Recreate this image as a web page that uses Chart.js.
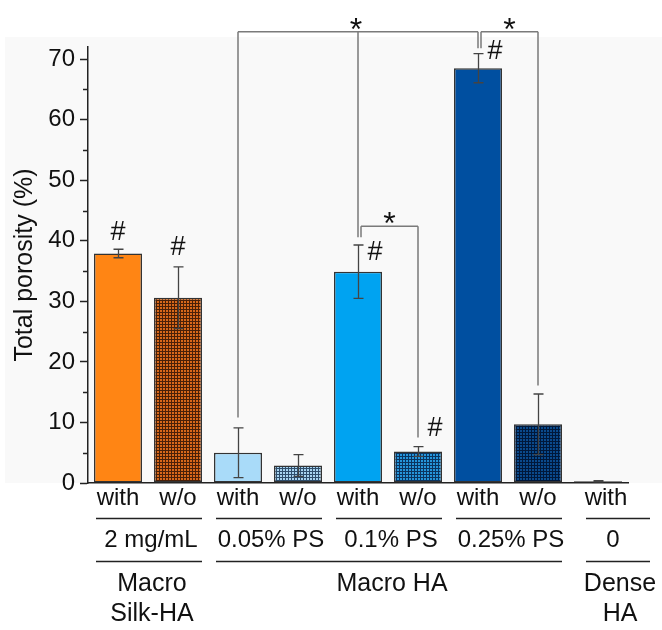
<!DOCTYPE html>
<html>
<head>
<meta charset="utf-8">
<script src="https://cdn.jsdelivr.net/npm/chart.js@4"></script>
<style>
  body { margin: 0; background: #fff; }
  #wrap { width: 662px; height: 630px; }
</style>
</head>
<body>
<div id="wrap"><canvas id="grafica" width="662" height="630"></canvas></div>
<script>
// datos
const categories = ['with', 'w/o', 'with', 'w/o', 'with', 'w/o', 'with', 'w/o', 'with'];
const porosity = [37.9, 30.6, 5.0, 2.9, 34.9, 5.2, 68.5, 9.7, 0.3];
const porosityErr = [0.7, 5.1, 4.1, 1.8, 4.4, 0.8, 2.4, 5.0, 0.1];
const concLabels = ['2 mg/mL', '0.05% PS', '0.1% PS', '0.25% PS', '0'];
const concSpans = [[0, 1], [2, 3], [4, 5], [6, 7], [8, 8]];
const typeLabels = [['Macro', 'Silk-HA'], ['Macro HA'], ['Dense', 'HA']];
const typeSpans = [[0, 1], [2, 7], [8, 8]];
const yTicks = [0, 10, 20, 30, 40, 50, 60, 70];
// significance: bars joined, end values of the legs, level of the bar
const sigBars = [[2, 4, 6], [6, 7], [4, 5]];
const sigEnds = [[10.8, 40.6, 71.8], [71.8, 16.1], [40.6, 7.5]];
const sigLevel = [74.5, 74.5, 42.4];
// "#" marks: bar index and height
const hashBars = [0, 1, 4, 5, 6];
const hashLevel = [41.4, 38.8, 38.1, 9.0, 71.2];

const FONT = '"Liberation Sans", Arial, sans-serif';

function patron(ctx, base, line) {
    const c = document.createElement('canvas');
    c.width = 3; c.height = 3;
    const g = c.getContext('2d');
    g.fillStyle = base; g.fillRect(0, 0, 3, 3);
    g.fillStyle = line; g.fillRect(0, 0, 3, 1); g.fillRect(0, 0, 1, 3);
    return ctx.createPattern(c, 'repeat');
}

const fondo = {
    id: 'fondo',
    beforeDraw(chart) {
        const ctx = chart.ctx;
        ctx.save();
        ctx.fillStyle = '#ffffff';
        ctx.fillRect(0, 0, chart.width, chart.height);
        ctx.fillStyle = '#f9f9f9';
        ctx.fillRect(5, 37, chart.width - 5, chart.chartArea.bottom - 37);
        ctx.restore();
    }
};

const extras = {
    id: 'extras',
    afterDatasetsDraw(chart) {
        const ctx = chart.ctx;
        const x = chart.scales.x, y = chart.scales.y;
        ctx.save();

        // minor ticks
        ctx.strokeStyle = '#222'; ctx.lineWidth = 1.5;
        for (let v = 5; v < 72; v += 10) {
            const py = Math.round(y.getPixelForValue(v)) + 0.5;
            ctx.beginPath(); ctx.moveTo(x.left - 5, py); ctx.lineTo(x.left, py); ctx.stroke();
        }

        // error bars
        ctx.strokeStyle = '#444'; ctx.lineWidth = 1.3;
        porosity.forEach((v, i) => {
            const px = Math.round(x.getPixelForValue(i)) + 0.5;
            const top = y.getPixelForValue(v + porosityErr[i]);
            const bot = y.getPixelForValue(Math.max(0, v - porosityErr[i]));
            ctx.beginPath();
            ctx.moveTo(px, top); ctx.lineTo(px, bot);
            ctx.moveTo(px - 5, top); ctx.lineTo(px + 5, top);
            ctx.moveTo(px - 5, bot); ctx.lineTo(px + 5, bot);
            ctx.stroke();
        });

        // brackets
        ctx.strokeStyle = '#7a7a7a'; ctx.lineWidth = 1.5;
        ctx.fillStyle = '#111';
        ctx.font = '32px ' + FONT;
        ctx.textAlign = 'center'; ctx.textBaseline = 'alphabetic';
        sigBars.forEach((bars, k) => {
            const ly = y.getPixelForValue(sigLevel[k]);
            const xs = bars.map((b, j) => {
                let px = x.getPixelForValue(b);
                if (bars.length === 2 && j === 0) px += 3;
                return px;
            });
            ctx.beginPath();
            ctx.moveTo(xs[0], ly); ctx.lineTo(xs[xs.length - 1], ly);
            xs.forEach((px, j) => {
                ctx.moveTo(px, ly); ctx.lineTo(px, y.getPixelForValue(sigEnds[k][j]));
            });
            ctx.stroke();
            const sx = bars.length === 3 ? xs[1] - 2 : (xs[0] + xs[1]) / 2;
            ctx.fillText('*', sx, ly - 10 + 18);
        });

        // # marks
        ctx.font = '27px ' + FONT;
        ctx.textBaseline = 'middle';
        hashBars.forEach((b, k) => {
            const shift = b < 2 ? 0 : 17;
            ctx.fillText('#', x.getPixelForValue(b) + shift, y.getPixelForValue(hashLevel[k]));
        });

        ctx.restore();
    },
    afterDraw(chart) {
        const ctx = chart.ctx;
        const x = chart.scales.x;
        const cx = i => x.getPixelForValue(i);
        const last = categories.length - 1;
        ctx.save();
        ctx.fillStyle = '#111';
        ctx.strokeStyle = '#222'; ctx.lineWidth = 1.5;
        ctx.font = '24px ' + FONT;
        ctx.textAlign = 'center'; ctx.textBaseline = 'middle';

        categories.forEach((t, i) => ctx.fillText(t, cx(i) + (i === last ? 8 : 0), 498));

        const linea = (a, b, yy) => {
            const x0 = a === last ? cx(a) - 12 : cx(a) - 22;
            const x1 = b === last ? cx(b) + 52 : cx(b) + 24;
            ctx.beginPath(); ctx.moveTo(x0, yy); ctx.lineTo(x1, yy); ctx.stroke();
        };

        concSpans.forEach(([a, b], k) => {
            linea(a, b, 518.5);
            const m = (cx(a) + cx(b)) / 2 + (a === last ? 15 : 3);
            ctx.fillText(concLabels[k], m, 540);
        });

        ctx.font = '25px ' + FONT;
        typeSpans.forEach(([a, b], k) => {
            linea(a, b, 561.5);
            const m = (cx(a) + cx(b)) / 2 + (a === last ? 22 : 4);
            typeLabels[k].forEach((t, j) => ctx.fillText(t, m, 584 + j * 30));
        });
        ctx.restore();
    }
};

function crearGrafica() {
    const ctx = document.getElementById('grafica').getContext('2d');
    const colores = [
        '#ff8514',
        patron(ctx, '#d8681a', '#4a2008'),
        '#a9dbf9',
        patron(ctx, '#a8d4f0', '#2f4e6c'),
        '#00a3f1',
        patron(ctx, '#2596dc', '#0b3560'),
        '#004fa0',
        patron(ctx, '#0a4a8c', '#00183a'),
        '#111111'
    ];

    new Chart(ctx, {
        type: 'bar',
        data: {
            labels: categories,
            datasets: [{
                data: porosity,
                backgroundColor: colores,
                borderColor: '#333',
                borderWidth: 1.5,
                borderSkipped: false,
                barPercentage: 0.8,
                categoryPercentage: 1.0
            }]
        },
        plugins: [fondo, extras],
        options: {
            responsive: false,
            animation: false,
            events: [],
            layout: { padding: { top: 47, right: 34, left: 0, bottom: 0 } },
            plugins: { legend: { display: false }, tooltip: { enabled: false } },
            scales: {
                x: {
                    ticks: { display: false },
                    grid: { display: false },
                    border: { color: '#222', width: 1.5 },
                    afterFit(s) { s.height = 147; }
                },
                y: {
                    min: 0,
                    max: 72,
                    afterFit(s) { s.width = 88; },
                    afterBuildTicks(s) { s.ticks = yTicks.map(v => ({ value: v })); },
                    ticks: { color: '#111', padding: 5, font: { family: FONT, size: 24 } },
                    grid: { drawOnChartArea: false, drawTicks: true, tickLength: 8, tickColor: '#222', tickWidth: 1.5 },
                    border: { color: '#222', width: 1.5 },
                    title: {
                        display: true,
                        text: 'Total porosity (%)',
                        color: '#111',
                        font: { family: FONT, size: 25 },
                        padding: { top: 10, bottom: 0 }
                    }
                }
            }
        }
    });
}

document.addEventListener('DOMContentLoaded', () => {
    crearGrafica();
});
</script>
</body>
</html>
